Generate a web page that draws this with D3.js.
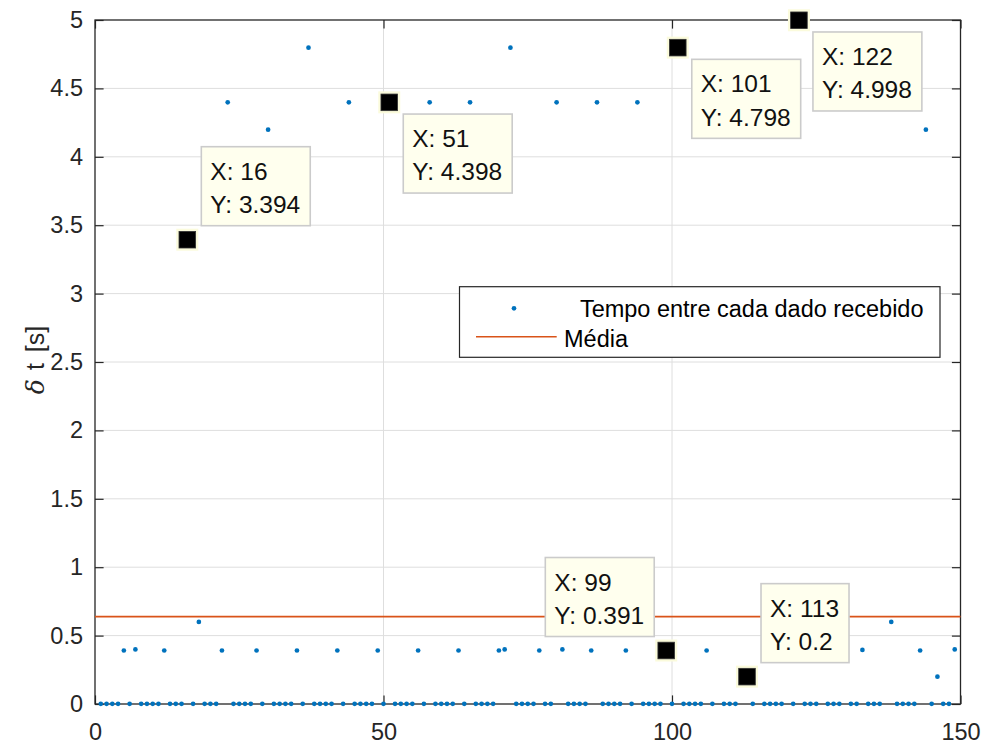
<!DOCTYPE html>
<html>
<head>
<meta charset="utf-8">
<script src="https://cdn.jsdelivr.net/npm/d3@7"></script>
<style>
  html, body { margin: 0; padding: 0; background: #ffffff; }
  svg { display: block; }
  text { font-family: "Liberation Sans", Arial, Helvetica, sans-serif; }
</style>
</head>
<body>
<div id="chart"></div>
<script>
// ---------------- data ----------------
// time between consecutive received samples (s), sample index 1..149
const deltaT = [
  0.001, 0.001, 0.001, 0.001, 0.391, 0.001, 0.399, 0.001, 0.001, 0.001,
  0.001, 0.391, 0.001, 0.001, 0.001, 3.394, 0.001, 0.600, 0.001, 0.001,
  0.001, 0.391, 4.398, 0.001, 0.001, 0.001, 0.001, 0.391, 0.001, 4.198,
  0.001, 0.001, 0.001, 0.001, 0.391, 0.001, 4.798, 0.001, 0.001, 0.001,
  0.001, 0.391, 0.001, 4.398, 0.001, 0.001, 0.001, 0.001, 0.391, 0.001,
  4.398, 0.001, 0.001, 0.001, 0.001, 0.391, 0.001, 4.398, 0.001, 0.001,
  0.001, 0.001, 0.391, 0.001, 4.398, 0.001, 0.001, 0.001, 0.001, 0.391,
  0.399, 4.798, 0.001, 0.001, 0.001, 0.001, 0.391, 0.001, 0.001, 4.398,
  0.399, 0.001, 0.001, 0.001, 0.001, 0.391, 4.398, 0.001, 0.001, 0.001,
  0.001, 0.391, 0.001, 4.398, 0.001, 0.001, 0.001, 0.001, 0.391, 0.001,
  4.798, 0.001, 0.001, 0.001, 0.001, 0.391, 0.001, 4.398, 0.001, 0.001,
  0.001, 4.398, 0.200, 0.001, 4.398, 0.001, 0.001, 0.001, 0.001, 0.391,
  0.001, 4.998, 0.001, 0.001, 0.001, 0.391, 0.001, 0.001, 0.001, 4.398,
  0.001, 0.001, 0.395, 0.001, 0.001, 0.001, 4.398, 0.600, 0.001, 0.001,
  0.001, 0.001, 0.391, 4.198, 0.001, 0.200, 0.001, 0.001, 0.399
];
const sampleIndex = deltaT.map((v, i) => i + 1);

const meanValue = 0.639;            // "Média" line level
const meanSpan = [0, 150];

const xTicks = [0, 50, 100, 150];
const yTicks = [0, 0.5, 1, 1.5, 2, 2.5, 3, 3.5, 4, 4.5, 5];

const tipIndex = [16, 51, 99, 101, 113, 122];
const tipSide  = ["tr", "br", "tl", "br", "tr", "br"];

const seriesNames = ["Tempo entre cada dado recebido", "Média"];
const yLabelSymbol = "δ";
const yLabelRest = "t [s]";

// ---------------- layout ----------------
const W = 983, H = 745;
const plot = { left: 95, right: 960.5, top: 20, bottom: 704 };
const axisColor = "#262626";
const gridColor = "#dedede";
const dotColor = "#0072bd";
const meanColor = "#d95319";
const tickLen = 8.6;
const tickFont = 23.5;

const svg = d3.select("#chart").append("svg")
  .attr("width", W).attr("height", H);

const x = d3.scaleLinear().domain([0, 150]).range([plot.left, plot.right]);
const y = d3.scaleLinear().domain([0, 5]).range([plot.bottom, plot.top]);

// grid
const grid = svg.append("g");
grid.selectAll("line.gx").data(xTicks.filter(t => t > 0 && t < 150)).join("line")
  .attr("x1", d => x(d)).attr("x2", d => x(d))
  .attr("y1", plot.top).attr("y2", plot.bottom)
  .attr("stroke", gridColor).attr("stroke-width", 1);
grid.selectAll("line.gy").data(yTicks.filter(t => t > 0 && t < 5)).join("line")
  .attr("x1", plot.left).attr("x2", plot.right)
  .attr("y1", d => y(d)).attr("y2", d => y(d))
  .attr("stroke", gridColor).attr("stroke-width", 1);

// axes
function styleAxis(g) {
  g.select(".domain").remove();
  g.selectAll(".tick line").attr("stroke", axisColor).attr("stroke-width", 1.2);
  g.selectAll(".tick text").attr("fill", axisColor)
    .style("font-family", '"Liberation Sans", Arial, sans-serif')
    .style("font-size", tickFont + "px");
}
svg.append("g").attr("transform", `translate(0,${plot.bottom})`)
  .call(d3.axisBottom(x).tickValues(xTicks).tickSizeInner(-tickLen).tickSizeOuter(0).tickPadding(19.3).tickFormat(d3.format("d")))
  .call(styleAxis);
svg.append("g").attr("transform", `translate(0,${plot.top})`)
  .call(d3.axisTop(x).tickValues(xTicks).tickSizeInner(-tickLen).tickSizeOuter(0).tickFormat(""))
  .call(styleAxis);
svg.append("g").attr("transform", `translate(${plot.left},0)`)
  .call(d3.axisLeft(y).tickValues(yTicks).tickSizeInner(-tickLen).tickSizeOuter(0).tickPadding(12).tickFormat(d3.format("~g")))
  .call(styleAxis);
svg.append("g").attr("transform", `translate(${plot.right},0)`)
  .call(d3.axisRight(y).tickValues(yTicks).tickSizeInner(-tickLen).tickSizeOuter(0).tickFormat(""))
  .call(styleAxis);

svg.append("rect")
  .attr("x", plot.left).attr("y", plot.top)
  .attr("width", plot.right - plot.left).attr("height", plot.bottom - plot.top)
  .attr("fill", "none").attr("stroke", axisColor).attr("stroke-width", 1.3);

// y label
const yl = svg.append("text")
  .attr("transform", `translate(44,360) rotate(-90)`)
  .attr("text-anchor", "middle")
  .attr("fill", axisColor)
  .style("font-size", "25px");
yl.append("tspan").text(yLabelSymbol)
  .style("font-family", '"DejaVu Serif", "Liberation Serif", serif')
  .style("font-style", "italic");
yl.append("tspan").attr("dx", 9).text(yLabelRest)
  .style("word-spacing", "4px");

// mean line
svg.append("line")
  .attr("x1", x(meanSpan[0])).attr("x2", x(meanSpan[1]))
  .attr("y1", y(meanValue)).attr("y2", y(meanValue))
  .attr("stroke", meanColor).attr("stroke-width", 1.6);

// data points
svg.append("g").selectAll("circle").data(deltaT).join("circle")
  .attr("cx", (d, i) => x(sampleIndex[i]))
  .attr("cy", d => y(d))
  .attr("r", 2.35)
  .attr("fill", dotColor);

// data tips: markers
const tips = tipIndex.map((k, j) => ({ k, v: deltaT[k - 1], side: tipSide[j] }));
const mk = svg.append("g");
tips.forEach(t => {
  const cx = x(t.k), cy = y(t.v);
  mk.append("rect").attr("x", cx - 11).attr("y", cy - 11).attr("width", 22).attr("height", 22)
    .attr("fill", "#fbfbdc");
  mk.append("rect").attr("x", cx - 8.3).attr("y", cy - 8.3).attr("width", 16.6).attr("height", 16.6)
    .attr("fill", "#000").attr("stroke", "#333").attr("stroke-width", 0.8);
});

// data tips: boxes
const fmt = d3.format(".4~g");
const boxH = 79, pad = 9.5, tipFont = 24.5;
tips.forEach(t => {
  const cx = x(t.k), cy = y(t.v);
  const g = svg.append("g");
  const r = g.append("rect").attr("fill", "#ffffee").attr("stroke", "#cbcbcb").attr("stroke-width", 1.6);
  const t1 = g.append("text").text("X: " + t.k).style("font-size", tipFont + "px").attr("fill", "#111");
  const t2 = g.append("text").text("Y: " + fmt(t.v)).style("font-size", tipFont + "px").attr("fill", "#111");
  const tw = Math.max(t1.node().getComputedTextLength(), t2.node().getComputedTextLength());
  const bw = tw + 2 * pad;
  let bx, by;
  if (t.side === "tr") { bx = cx + 14; by = cy - 14 - boxH; }
  else if (t.side === "br") { bx = cx + 14; by = cy + 11.7; }
  else { bx = cx - 12 - bw; by = cy - 14 - boxH; }
  r.attr("x", bx).attr("y", by).attr("width", bw).attr("height", boxH);
  t1.attr("x", bx + pad - 0.5).attr("y", by + 33);
  t2.attr("x", bx + pad - 0.5).attr("y", by + 66.4);
});

// legend
const lg = svg.append("g");
lg.append("rect").attr("x", 459.5).attr("y", 286.7).attr("width", 480.5).attr("height", 70.6)
  .attr("fill", "#fff").attr("stroke", axisColor).attr("stroke-width", 1.2);
lg.append("circle").attr("cx", 514).attr("cy", 308.3).attr("r", 2.35).attr("fill", dotColor);
lg.append("text").attr("x", 923.5).attr("y", 316.5).attr("text-anchor", "end")
  .style("font-size", "23.5px").attr("fill", "#000").text(seriesNames[0]);
lg.append("line").attr("x1", 476).attr("x2", 556.7).attr("y1", 336.7).attr("y2", 336.7)
  .attr("stroke", meanColor).attr("stroke-width", 1.6);
lg.append("text").attr("x", 564).attr("y", 346.7)
  .style("font-size", "23.5px").attr("fill", "#000").text(seriesNames[1]);
</script>
</body>
</html>
